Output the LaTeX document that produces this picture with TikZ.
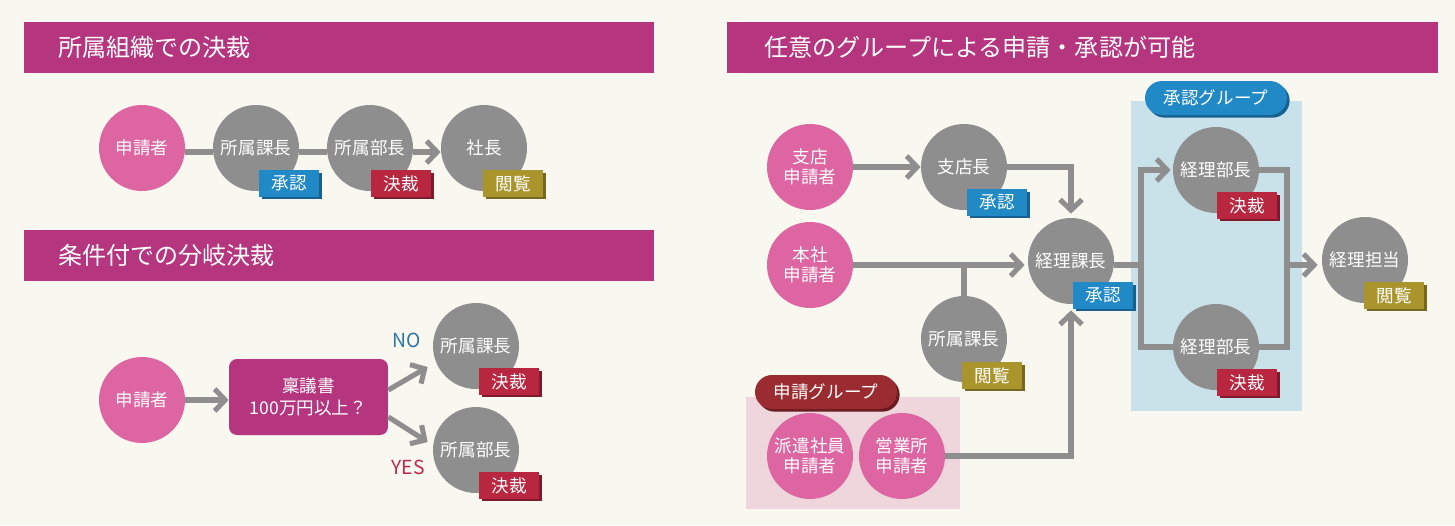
\documentclass[tikz,border=0pt]{standalone}
\usepackage{fontspec}
\setmainfont{Noto Sans CJK JP}
\usetikzlibrary{arrows.meta, shadows, shapes.misc}

\definecolor{bgcream}{HTML}{F8F7F0}
\definecolor{headmag}{HTML}{B5357F}
\definecolor{applpink}{HTML}{DD66A2}
\definecolor{nodegray}{HTML}{8E8E8E}
\definecolor{apprblue}{HTML}{2189C6}
\definecolor{apprdark}{HTML}{17608F}
\definecolor{decred}{HTML}{B8263F}
\definecolor{decdark}{HTML}{7E1A2C}
\definecolor{viewolive}{HTML}{AA952D}
\definecolor{viewdark}{HTML}{76681F}
\definecolor{grpred}{HTML}{9A2B30}
\definecolor{grpdark}{HTML}{6A1C20}
\definecolor{grppink}{HTML}{EED6DC}
\definecolor{grpblue}{HTML}{C9E2EA}
\definecolor{notext}{HTML}{2E77A5}
\definecolor{yestext}{HTML}{C1274A}

\begin{document}
\begin{tikzpicture}[x=0.02cm, y=-0.02cm, font=\fontsize{10}{11.5}\selectfont,
  headtext/.style={anchor=west, text=white, font=\fontsize{13.7}{16}\selectfont},
  applicant/.style={circle, fill=applpink, text=white, minimum size=1.72cm, inner sep=0pt, align=center},
  officer/.style={circle, fill=nodegray, text=white, minimum size=1.72cm, inner sep=0pt, align=center},
  badge/.style={anchor=north west, text=white, minimum width=1.2cm, minimum height=0.53cm, inner sep=0pt},
  approve/.style={badge, fill=apprblue, drop shadow={shadow xshift=1.5pt, shadow yshift=-1.5pt, opacity=1, fill=apprdark}},
  decide/.style={badge, fill=decred, drop shadow={shadow xshift=1.5pt, shadow yshift=-1.5pt, opacity=1, fill=decdark}},
  browse/.style={badge, fill=viewolive, drop shadow={shadow xshift=1.5pt, shadow yshift=-1.5pt, opacity=1, fill=viewdark}},
  pill/.style={rounded rectangle, text=white, minimum width=2.84cm, minimum height=0.68cm, inner sep=0pt},
  plainline/.style={draw=nodegray, line width=2.9pt},
  arrowline/.style={plainline, -{Straight Barb[length=6pt, width=12.5pt]}},
]
\useasboundingbox (0,0) rectangle (1455,525);
\fill[bgcream] (0,0) rectangle (1455,525);

% ---- top left: decision inside the organisation ----
\fill[headmag] (24,22) rectangle (654,73);
\node[headtext] (head1) at (52,47.5) {所属組織での決裁};
\node[applicant] (a1) at (142,148) {申請者};
\node[officer] (a2) at (256,148) {所属課長};
\node[officer] (a3) at (370,148) {所属部長};
\node[officer] (a4) at (484,148) {社長};
\draw[plainline] ([yshift=-0.08cm]a1.east) -- ([yshift=-0.08cm]a2.west);
\draw[plainline] ([yshift=-0.08cm]a2.east) -- ([yshift=-0.08cm]a3.west);
\draw[arrowline] ([yshift=-0.08cm]a3.east) -- ([yshift=-0.08cm]a4.west);
\node[approve] (s1) at (259,170) {承認};
\node[decide] (s2) at (371,170) {決裁};
\node[browse] (s3) at (483,170) {閲覧};

% ---- bottom left: branching on a condition ----
\fill[headmag] (24,230) rectangle (654,281);
\node[headtext] (head2) at (52,255.5) {条件付での分岐決裁};
\node[applicant] (b1) at (142,400) {申請者};
\node[rectangle, rounded corners=0.16cm, fill=headmag, text=white, minimum width=3.18cm,
  minimum height=1.52cm, align=center, font=\fontsize{10}{12.5}\selectfont] (rg) at (308.5,397)
  {稟議書\\100万円以上？};
\node[officer] (nc) at (476,346) {所属課長};
\node[officer] (yc) at (476,450) {所属部長};
\node[text=notext, font=\fontsize{11}{13}\selectfont] (no) at (407,340) {NO};
\node[text=yestext, font=\fontsize{11}{13}\selectfont] (yes) at (408,467) {YES};
\draw[arrowline] (b1.east) -- (rg.west |- b1.east);
\draw[arrowline] ([yshift=0.14cm]rg.east) -- ([shift={(-0.1cm,-0.42cm)}]nc.west);
\draw[arrowline] ([yshift=-0.4cm]rg.east) -- ([shift={(-0.1cm,0.16cm)}]yc.west);
\node[decide] (s4) at (479,368) {決裁};
\node[decide] (s5) at (479,472) {決裁};

% ---- right: any group may apply and approve ----
\fill[headmag] (727,22) rectangle (1438,73);
\node[headtext] (head3) at (758,47.5) {任意のグループによる申請・承認が可能};
\fill[grppink] (746,397) rectangle (960,509);
\fill[grpblue] (1131,101) rectangle (1302,411);
\node[pill, fill=grpred, drop shadow={shadow xshift=1.5pt, shadow yshift=-1.5pt, opacity=1, fill=grpdark}]
  (g1) at (826,392) {申請グループ};
\node[pill, fill=apprblue, drop shadow={shadow xshift=1.5pt, shadow yshift=-1.5pt, opacity=1, fill=apprdark}]
  (g2) at (1216,98) {承認グループ};

\node[applicant] (sr) at (810,167) {支店\\申請者};
\node[officer] (sl) at (964,167) {支店長};
\node[applicant] (hr) at (810,265) {本社\\申請者};
\node[officer] (sk) at (964,339) {所属課長};
\node[applicant] (hh) at (810,456) {派遣社員\\申請者};
\node[applicant] (eg) at (902,456) {営業所\\申請者};
\node[officer] (kk) at (1071,261) {経理課長};
\node[officer] (kb1) at (1216,170) {経理部長};
\node[officer] (kb2) at (1216,347) {経理部長};
\node[officer] (kt) at (1365,260) {経理担当};
\coordinate (split) at (1141,265);
\coordinate (merge) at (1287,265);

\draw[arrowline] (sr) -- (sl);
\draw[arrowline] (sl.east) -| ([yshift=0.08cm]kk.north);
\draw[arrowline] (hr.east |- split) -- ([xshift=-0.06cm]kk.west |- split);
\draw[plainline] (sk.north) -- (sk.north |- split);
\draw[arrowline] (eg.east) -| ([yshift=-0.12cm]kk.south);
\draw[plainline] (split -| kk.east) -- (split);
\draw[arrowline] (split) |- ([xshift=-0.04cm]kb1.west);
\draw[plainline] (split) |- (kb2.west);
\draw[plainline] (kb1.east) -| (merge);
\draw[plainline] (kb2.east) -| (merge);
\draw[arrowline] (merge) -- ([xshift=-0.08cm]merge -| kt.west);

\node[approve] (s6) at (967,189) {承認};
\node[browse] (s7) at (962,362) {閲覧};
\node[approve] (s8) at (1073,282) {承認};
\node[decide] (s9) at (1217,192) {決裁};
\node[decide] (s10) at (1217,369) {決裁};
\node[browse] (s11) at (1364,282) {閲覧};
\end{tikzpicture}
\end{document}
